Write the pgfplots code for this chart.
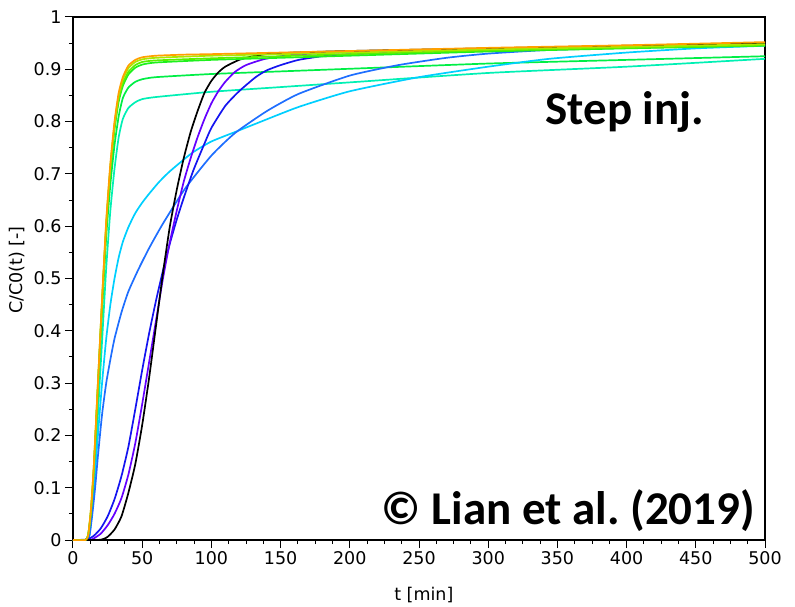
\documentclass[border=0pt]{standalone}
\usepackage{pgfplots}
\pgfplotsset{compat=1.18}
\usepackage{fontspec}
\setmainfont{DejaVu Sans}
\newfontfamily\carlito{Carlito}
\definecolor{cviolet}{RGB}{100,0,255}
\definecolor{cblue}{RGB}{20,20,240}
\definecolor{cazure}{RGB}{30,110,255}
\definecolor{ccyan}{RGB}{0,207,255}
\definecolor{cteal}{RGB}{0,240,180}
\definecolor{cgreen}{RGB}{0,238,70}
\definecolor{cgreenb}{RGB}{30,240,30}
\definecolor{clime}{RGB}{90,240,0}
\definecolor{cchart}{RGB}{170,232,0}
\definecolor{corange}{RGB}{255,160,0}
\begin{document}
\frenchspacing
\begin{tikzpicture}
\begin{axis}[
  scale only axis, width=692bp, height=523bp,
  xmin=0, xmax=500, ymin=0, ymax=1,
  xtick distance=50, ytick distance=0.1,
  minor x tick num=3, minor y tick num=1,
  tick align=outside, xtick pos=lower, ytick pos=left,
  major tick length=8bp, minor tick length=4bp,
  axis line style={line width=1.3bp},
  every tick/.style={black, line width=1bp},
  /pgf/number format/assume math mode=true,
  tick label style={font=\fontsize{17.5bp}{20bp}\selectfont},
  xlabel={t [min]}, ylabel={C/C0(t) [-]},
  every axis x label/.style={at={(axis description cs:0.507,-0.105)}, anchor=center, font=\fontsize{17.5bp}{20bp}\selectfont},
  every axis y label/.style={at={(axis description cs:-0.081,0.516)}, anchor=center, rotate=90, font=\fontsize{17.5bp}{20bp}\selectfont},
  every axis plot/.append style={line width=1.7bp, smooth, tension=0.35},
]
\coordinate (ll) at (rel axis cs:0,0);
\coordinate (ur) at (rel axis cs:1,1);
% teal
\addplot[cteal] coordinates {(0,0)(9,0)(11,0.008)(13,0.04)(15,0.1)(18,0.24)(21,0.38)(24,0.52)(27,0.63)(30,0.71)(33,0.77)(36,0.805)(40,0.826)(45,0.837)(50,0.843)(60,0.847)(100,0.857)(150,0.866)(200,0.875)(300,0.893)(400,0.905)(500,0.92)};
% green
\addplot[cgreen] coordinates {(0,0)(9,0)(11,0.01)(13,0.05)(15,0.13)(18,0.29)(21,0.44)(24,0.58)(27,0.68)(30,0.755)(33,0.81)(36,0.845)(40,0.865)(45,0.876)(50,0.881)(60,0.885)(100,0.891)(150,0.896)(200,0.901)(300,0.911)(400,0.918)(500,0.925)};
% cyan
\addplot[ccyan] coordinates {(0,0)(10,0)(12,0.01)(14,0.06)(16,0.13)(18,0.2)(21,0.3)(24,0.385)(27,0.45)(30,0.5)(33,0.54)(36,0.57)(40,0.598)(45,0.625)(50,0.645)(55,0.662)(62,0.684)(70,0.705)(86,0.74)(100,0.762)(117,0.78)(134,0.798)(163,0.828)(200,0.858)(250,0.885)(300,0.905)(344,0.92)(400,0.932)(450,0.94)(500,0.945)};
% azure
\addplot[cazure] coordinates {(0,0)(10,0)(12,0.01)(14,0.05)(16,0.1)(18,0.16)(21,0.24)(24,0.3)(27,0.345)(30,0.385)(35,0.435)(40,0.475)(47,0.516)(55,0.558)(65,0.605)(81,0.672)(100,0.735)(117,0.778)(140,0.82)(163,0.853)(200,0.888)(235,0.908)(270,0.922)(300,0.93)(344,0.937)(400,0.941)(450,0.944)(500,0.947)};
% blue
\addplot[cblue] coordinates {(0,0)(10,0.001)(15,0.008)(20,0.022)(25,0.045)(30,0.078)(35,0.122)(40,0.178)(45,0.25)(50,0.325)(55,0.395)(60,0.458)(65,0.515)(70,0.567)(75,0.613)(80,0.654)(87,0.707)(95,0.758)(100,0.788)(110,0.83)(120,0.858)(132,0.885)(140,0.898)(150,0.908)(163,0.918)(180,0.925)(200,0.929)(250,0.933)(300,0.937)(400,0.943)(500,0.947)};
% violet
\addplot[cviolet] coordinates {(0,0)(12,0)(15,0.003)(20,0.012)(25,0.028)(30,0.05)(35,0.08)(40,0.125)(45,0.185)(50,0.26)(55,0.34)(60,0.42)(65,0.5)(70,0.57)(75,0.63)(80,0.685)(85,0.73)(90,0.77)(95,0.805)(100,0.835)(105,0.858)(110,0.876)(117,0.895)(125,0.908)(139,0.92)(160,0.928)(200,0.933)(300,0.939)(400,0.944)(500,0.948)};
% black
\addplot[black] coordinates {(0,0)(18,0)(22,0.002)(25,0.006)(30,0.02)(35,0.045)(40,0.09)(45,0.145)(50,0.22)(55,0.31)(60,0.41)(65,0.51)(70,0.6)(75,0.67)(80,0.73)(85,0.78)(90,0.82)(95,0.855)(100,0.878)(105,0.894)(110,0.905)(120,0.918)(130,0.925)(140,0.929)(160,0.932)(200,0.935)(300,0.94)(400,0.945)(500,0.95)};
% fast bundle
\addplot[cgreenb] coordinates {(0,0)(9,0)(11,0.01)(13,0.055)(15,0.13)(18,0.29)(21,0.45)(24,0.595)(27,0.705)(30,0.785)(33,0.838)(36,0.868)(40,0.89)(45,0.903)(50,0.909)(60,0.913)(100,0.918)(150,0.922)(200,0.926)(300,0.934)(400,0.94)(500,0.945)};
\addplot[clime] coordinates {(0,0)(9,0)(11,0.01)(13,0.055)(15,0.135)(18,0.295)(21,0.455)(24,0.6)(27,0.71)(30,0.79)(33,0.843)(36,0.873)(40,0.895)(45,0.908)(50,0.914)(60,0.917)(100,0.921)(150,0.925)(200,0.929)(300,0.936)(400,0.941)(500,0.946)};
\addplot[cchart] coordinates {(0,0)(9,0)(11,0.01)(13,0.06)(15,0.14)(18,0.3)(21,0.46)(24,0.605)(27,0.715)(30,0.795)(33,0.85)(36,0.88)(40,0.902)(45,0.914)(50,0.919)(60,0.922)(100,0.926)(150,0.929)(200,0.932)(300,0.938)(400,0.943)(500,0.948)};
\addplot[corange] coordinates {(0,0)(9,0)(11,0.01)(13,0.06)(15,0.14)(18,0.3)(21,0.46)(24,0.61)(27,0.72)(30,0.8)(33,0.855)(36,0.885)(40,0.907)(45,0.918)(50,0.923)(60,0.926)(80,0.928)(100,0.929)(150,0.932)(200,0.935)(300,0.941)(400,0.946)(500,0.952)};
\node[font=\carlito\bfseries\fontsize{47bp}{50bp}\selectfont, anchor=base, inner sep=0pt] at (axis cs:398.8,0.795) {Step inj.};
\node[font=\carlito\bfseries\fontsize{47bp}{50bp}\selectfont, anchor=base, inner sep=0pt] at (axis cs:358,0.0287) {© Lian et al. (2019)};
\end{axis}
\pgfresetboundingbox
\path ([shift={(-73bp,-66bp)}]ll) rectangle ([shift={(30bp,17bp)}]ur);
\end{tikzpicture}
\end{document}
